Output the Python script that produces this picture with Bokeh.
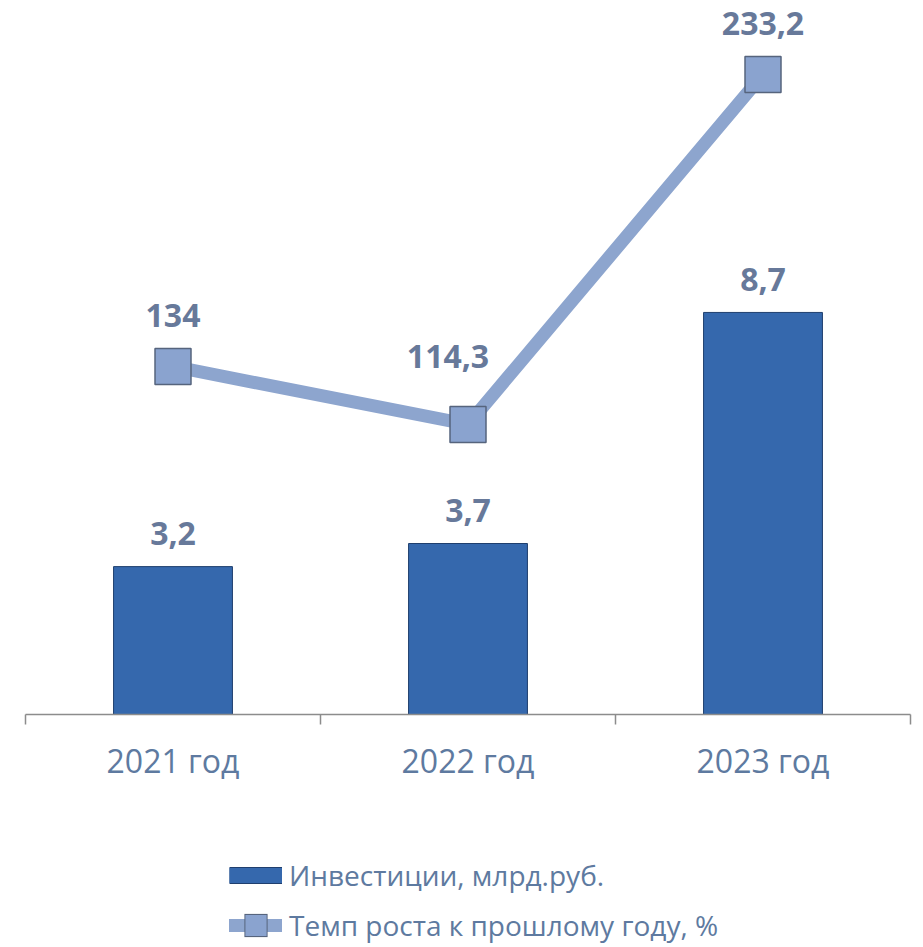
import numpy as np
from bokeh.plotting import figure
from bokeh.layouts import column
from bokeh.models import Range1d, FixedTicker, Legend, LegendItem, ColumnDataSource
from bokeh.core.properties import value
from bokeh.embed import file_html
from bokeh.resources import INLINE

# ---- data ----
categories = ["2021 год", "2022 год", "2023 год"]
investments = [3.2, 3.7, 8.7]
growth_rate = [134, 114.3, 233.2]
series_names = ["Инвестиции, млрд.руб.", "Темп роста к прошлому году, %"]

# label placement tweaks (screen px), style only
rate_label_dx = [0, -20, 0]
rate_label_dy = [-51, -68, -51]


def fmt(v):
    return f"{v:g}".replace(".", ",")


FONT = "Open Sans"
LABEL_COLOR = "#67799A"
AXIS_TEXT_COLOR = "#5E7AA0"
BAR_COLOR = "#3568AD"
BAR_EDGE = "#1F3F6E"
LINE_COLOR = "#8DA5CE"
MK_FILL = "#8AA3CF"
MK_EDGE = "#56647D"
AXIS_COLOR = "#8C8C8C"

x = np.arange(len(categories)) + 0.5

bar_src = ColumnDataSource(dict(x=x, top=investments, label=[fmt(v) for v in investments]))
rate_src = ColumnDataSource(dict(x=x, y=growth_rate, label=[fmt(v) for v in growth_rate],
                                 dx=rate_label_dx, dy=rate_label_dy))

# ---------------- main chart ----------------
p = figure(width=923, height=800, output_backend="svg", toolbar_location=None,
           x_range=Range1d(0, len(categories)), y_range=Range1d(0, 15.45),
           y_axis_location=None,
           min_border_left=25, min_border_right=13, min_border_top=0, min_border_bottom=86,
           outline_line_color=None, background_fill_color="white", border_fill_color="white")
p.extra_y_ranges = {"rate": Range1d(15.8, 258.3)}
p.grid.visible = False

xa = p.xaxis[0]
xa.ticker = FixedTicker(ticks=[float(v) for v in x],
                        minor_ticks=[float(v) for v in range(len(categories) + 1)])
xa.major_label_overrides = {float(xi): c for xi, c in zip(x, categories)}
xa.axis_line_color = AXIS_COLOR
xa.axis_line_width = 1.5
xa.major_tick_line_color = None
xa.major_tick_out = 10
xa.major_tick_in = 0
xa.minor_tick_line_color = AXIS_COLOR
xa.minor_tick_line_width = 1.5
xa.minor_tick_out = 10
xa.minor_tick_in = 0
xa.major_label_text_font = FONT
xa.major_label_text_font_size = "32px"
xa.major_label_text_color = AXIS_TEXT_COLOR
xa.major_label_standoff = 14

p.vbar(x="x", top="top", bottom=0, width=0.403, source=bar_src,
       fill_color=BAR_COLOR, line_color=BAR_EDGE, line_width=1)
p.text(x="x", y="top", text="label", source=bar_src, text_align="center",
       text_baseline="alphabetic", y_offset=-33, text_font=value(FONT),
       text_font_style="bold", text_font_size="32px", text_color=LABEL_COLOR)

p.line(x="x", y="y", source=rate_src, y_range_name="rate", line_width=13,
       line_color=LINE_COLOR, line_join="round")
p.scatter(x="x", y="y", source=rate_src, y_range_name="rate", marker="square", size=36,
          fill_color=MK_FILL, line_color=MK_EDGE, line_width=1.5)
p.text(x="x", y="y", text="label", source=rate_src, y_range_name="rate",
       x_offset="dx", y_offset="dy", text_align="center", text_baseline="alphabetic",
       text_font=value(FONT), text_font_style="bold", text_font_size="32px",
       text_color=LABEL_COLOR)

# ---------------- legend strip ----------------
# ranges chosen so the series themselves fall outside this strip; only legend swatches show
lg = figure(width=923, height=147, output_backend="svg", toolbar_location=None,
            x_range=Range1d(-20, -19), y_range=Range1d(-20, -19),
            x_axis_location=None, y_axis_location=None,
            min_border_left=0, min_border_right=0, min_border_top=0, min_border_bottom=0,
            outline_line_color=None, background_fill_color="white", border_fill_color="white")
lg.grid.visible = False

leg_bar_edge = lg.line(x="x", y="top", source=bar_src, line_width=17, line_color=BAR_EDGE, line_cap="butt")
leg_bar_fill = lg.line(x="x", y="top", source=bar_src, line_width=15, line_color=BAR_COLOR, line_cap="butt")
leg_line = lg.line(x="x", y="y", source=rate_src, line_width=13, line_color=LINE_COLOR, line_cap="round")
leg_mk_edge = lg.scatter(x="x", y="y", source=rate_src, marker="square",
                         fill_color=MK_EDGE, line_color=MK_EDGE, line_width=12, line_join="miter")
leg_mk_fill = lg.scatter(x="x", y="y", source=rate_src, marker="square",
                         fill_color=MK_FILL, line_color=MK_FILL, line_width=10, line_join="miter")

legend = Legend(items=[LegendItem(label=series_names[0], renderers=[leg_bar_edge, leg_bar_fill]),
                       LegendItem(label=series_names[1], renderers=[leg_line, leg_mk_edge, leg_mk_fill])],
                location=(204, 2), orientation="vertical", glyph_width=53, glyph_height=28,
                label_height=40, label_standoff=7, spacing=10, padding=0, margin=0,
                border_line_color=None, background_fill_alpha=0,
                label_text_font=FONT, label_text_font_size="28px", label_text_color=AXIS_TEXT_COLOR)
lg.add_layout(legend, "center")

open("out.html", "w").write(file_html(column(p, lg), INLINE))
